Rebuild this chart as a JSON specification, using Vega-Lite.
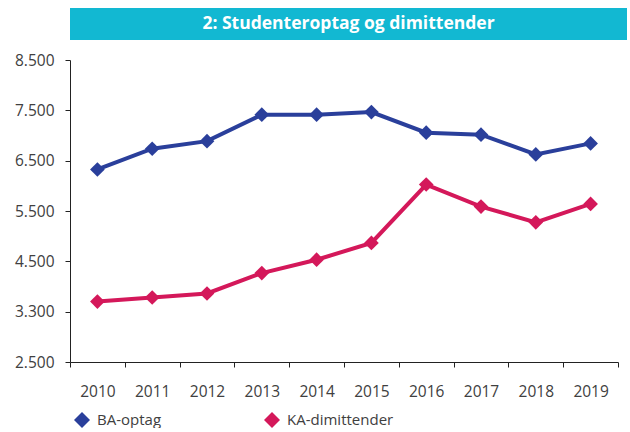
{
  "$schema": "https://vega.github.io/schema/vega-lite/v6.json",
  "background": "white",
  "padding": {"left": 14, "top": 8, "right": 4, "bottom": 0},
  "config": {"view": {"stroke": null}, "font": "Open Sans"},
  "bounds": "flush",
  "spacing": 20,
  "vconcat": [
    {
      "width": 557,
      "height": 32,
      "view": {"fill": "#12b8d2", "stroke": null},
      "data": {"values": [{"t": "2: Studenteroptag og dimittender"}]},
      "mark": {"type": "text", "color": "white", "fontSize": 17.5, "fontWeight": "bold", "font": "Open Sans", "baseline": "middle", "align": "center"},
      "encoding": {"text": {"field": "t"}}
    },
    {
      "width": 548,
      "height": 302,
      "data": {"values": [
        {"year": 2010, "series": "BA-optag", "value": 6325},
        {"year": 2011, "series": "BA-optag", "value": 6737},
        {"year": 2012, "series": "BA-optag", "value": 6888},
        {"year": 2013, "series": "BA-optag", "value": 7414},
        {"year": 2014, "series": "BA-optag", "value": 7414},
        {"year": 2015, "series": "BA-optag", "value": 7466},
        {"year": 2016, "series": "BA-optag", "value": 7056},
        {"year": 2017, "series": "BA-optag", "value": 7016},
        {"year": 2018, "series": "BA-optag", "value": 6624},
        {"year": 2019, "series": "BA-optag", "value": 6843},
        {"year": 2010, "series": "KA-dimittender", "value": 3701},
        {"year": 2011, "series": "KA-dimittender", "value": 3781},
        {"year": 2012, "series": "KA-dimittender", "value": 3861},
        {"year": 2013, "series": "KA-dimittender", "value": 4267},
        {"year": 2014, "series": "KA-dimittender", "value": 4532},
        {"year": 2015, "series": "KA-dimittender", "value": 4865},
        {"year": 2016, "series": "KA-dimittender", "value": 6026},
        {"year": 2017, "series": "KA-dimittender", "value": 5588},
        {"year": 2018, "series": "KA-dimittender", "value": 5275},
        {"year": 2019, "series": "KA-dimittender", "value": 5641}
      ]},
      "encoding": {
        "x": {
          "field": "year", "type": "ordinal", "title": null,
          "scale": {"type": "band", "paddingInner": 0, "paddingOuter": 0},
          "axis": {"labelAngle": 0, "tickBand": "extent", "tickSize": 5, "labelPadding": 17, "labelFontSize": 15.5, "labelColor": "#404040", "domainColor": "#222222", "tickColor": "#222222", "grid": false}
        },
        "y": {
          "field": "value", "type": "quantitative", "title": null,
          "scale": {"domain": [2500, 8500], "nice": false, "zero": false},
          "axis": {"values": [2500, 3500, 4500, 5500, 6500, 7500, 8500], "labelExpr": "datum.value == 3500 ? '3.300' : replace(format(datum.value, ','), ',', '.')", "tickSize": 5, "labelPadding": 11, "labelFontSize": 15.5, "labelColor": "#404040", "domainColor": "#222222", "tickColor": "#222222", "grid": false}
        },
        "color": {"field": "series", "type": "nominal", "title": null,
          "scale": {"domain": ["BA-optag", "KA-dimittender"], "range": ["#2a3f9b", "#d4185a"]},
          "legend": {"orient": "none", "legendX": 4, "legendY": 404, "direction": "horizontal", "symbolType": "diamond", "symbolSize": 256, "symbolStrokeWidth": 0, "labelFontSize": 15, "labelColor": "#404040", "labelOffset": 7, "columnPadding": 102,
            "encode": {"symbols": {"update": {"fill": {"scale": "color", "field": "value"}, "strokeWidth": {"value": 0}}}}}
        }
      },
      "layer": [
        {
          "mark": {"type": "line", "strokeWidth": 4}
        },
        {
          "mark": {"type": "point", "shape": "diamond", "filled": true, "size": 216, "opacity": 1}
        }
      ]
    }
  ]
}
